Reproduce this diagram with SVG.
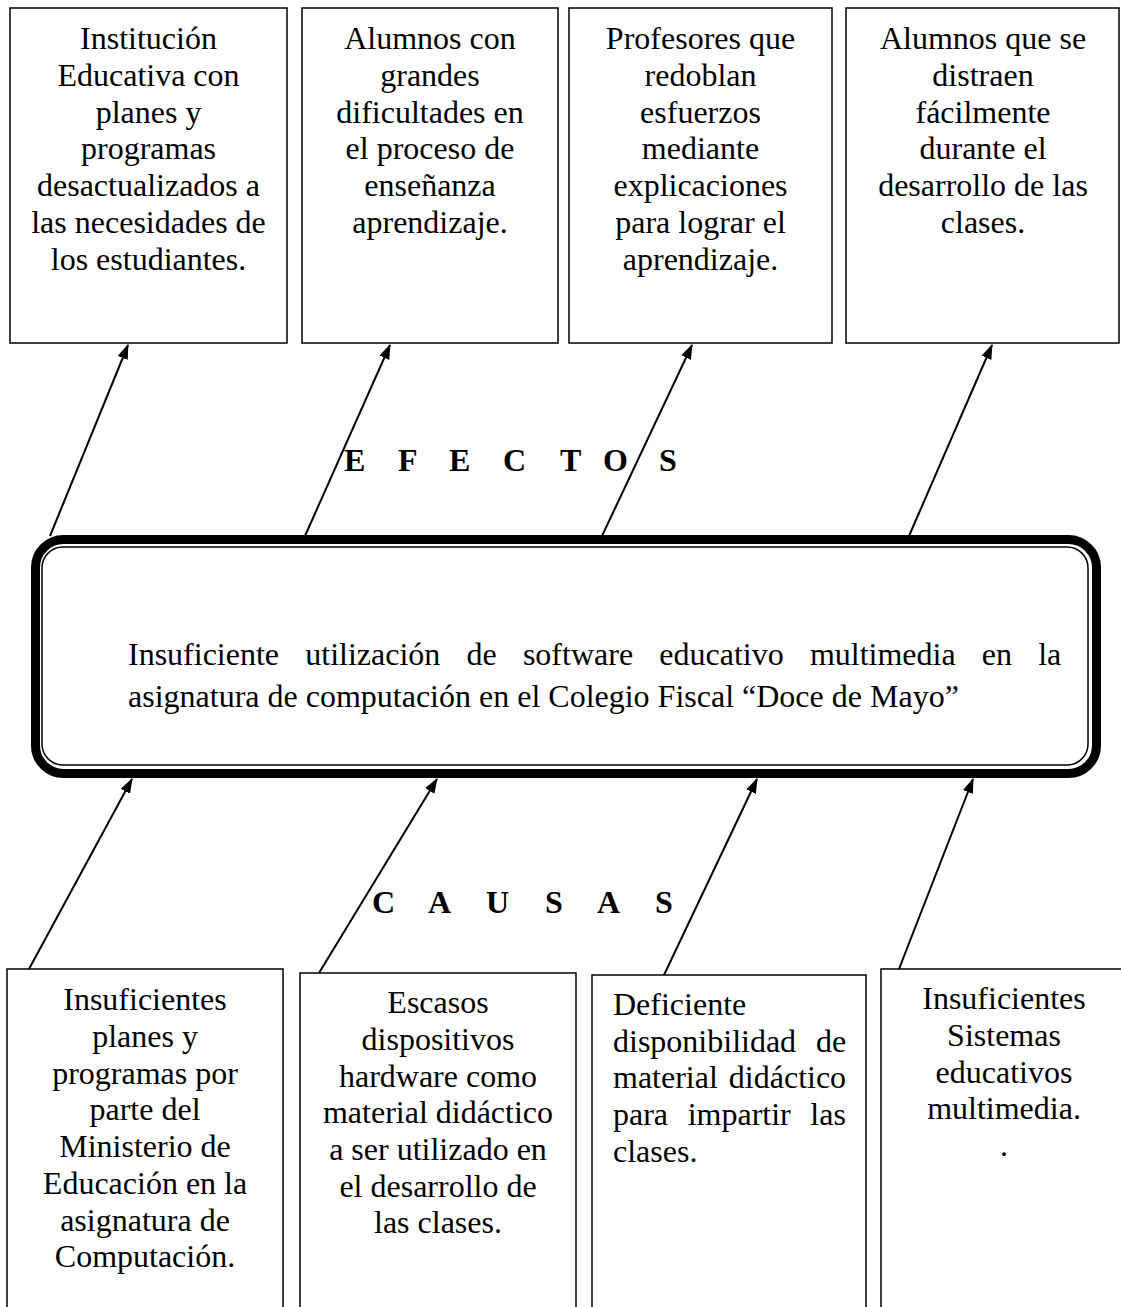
<svg xmlns="http://www.w3.org/2000/svg" width="1121" height="1307" viewBox="0 0 1121 1307">
<defs>
<style>
.box{fill:#fff;stroke:#000;stroke-width:1.5}
.t{font-family:"Liberation Serif","Times New Roman",serif;font-size:32px;fill:#000}
.c{text-anchor:middle}
.h{font-family:"Liberation Serif","Times New Roman",serif;font-size:32px;font-weight:bold;fill:#000}
.arr{stroke:#000;stroke-width:2;fill:none;marker-end:url(#ah)}
</style>
<marker id="ah" viewBox="0 0 14 10" refX="13" refY="5" markerWidth="15" markerHeight="11" markerUnits="userSpaceOnUse" orient="auto">
<path d="M0,0 L14,5 L0,10 z" fill="#000"/>
</marker>
</defs>
<rect width="1121" height="1307" fill="#fff"/>

<g id="efecto1">
<rect class="box" x="10" y="8" width="277" height="335"/>
<text class="t c"><tspan x="148.5" y="49">Institución</tspan><tspan x="148.5" y="86">Educativa con</tspan><tspan x="148.5" y="123">planes y</tspan><tspan x="148.5" y="159">programas</tspan><tspan x="148.5" y="196">desactualizados a</tspan><tspan x="148.5" y="233">las necesidades de</tspan><tspan x="148.5" y="270">los estudiantes.</tspan></text>
</g>
<g id="efecto2">
<rect class="box" x="302" y="8" width="256" height="335"/>
<text class="t c"><tspan x="430" y="49">Alumnos con</tspan><tspan x="430" y="86">grandes</tspan><tspan x="430" y="123">dificultades en</tspan><tspan x="430" y="159">el proceso de</tspan><tspan x="430" y="196">enseñanza</tspan><tspan x="430" y="233">aprendizaje.</tspan></text>
</g>
<g id="efecto3">
<rect class="box" x="569" y="8" width="263" height="335"/>
<text class="t c"><tspan x="700.5" y="49">Profesores que</tspan><tspan x="700.5" y="86">redoblan</tspan><tspan x="700.5" y="123">esfuerzos</tspan><tspan x="700.5" y="159">mediante</tspan><tspan x="700.5" y="196">explicaciones</tspan><tspan x="700.5" y="233">para lograr el</tspan><tspan x="700.5" y="270">aprendizaje.</tspan></text>
</g>
<g id="efecto4">
<rect class="box" x="846" y="8" width="273" height="335"/>
<text class="t c"><tspan x="983" y="49">Alumnos que se</tspan><tspan x="983" y="86">distraen</tspan><tspan x="983" y="123">fácilmente</tspan><tspan x="983" y="159">durante el</tspan><tspan x="983" y="196">desarrollo de las</tspan><tspan x="983" y="233">clases.</tspan></text>
</g>

<g id="label-efectos">
<text class="h" y="471"><tspan x="344">E</tspan> <tspan x="398">F</tspan> <tspan x="449">E</tspan> <tspan x="503">C</tspan> <tspan x="560">T</tspan> <tspan x="603">O</tspan> <tspan x="659">S</tspan></text>
</g>

<g id="problema">
<rect x="35.5" y="539.5" width="1061" height="234" rx="28" ry="28" fill="#fff" stroke="#000" stroke-width="9"/>
<rect x="42" y="547" width="1046" height="218" rx="21" ry="21" fill="none" stroke="#000" stroke-width="1.5"/>
<text class="t" x="128" y="665" word-spacing="18.2">Insuficiente utilización de software educativo multimedia en la</text>
<text class="t" x="128" y="707">asignatura de computación en el Colegio Fiscal “Doce de Mayo”</text>
</g>

<g id="label-causas">
<text class="h" y="913"><tspan x="372">C</tspan> <tspan x="428">A</tspan> <tspan x="486">U</tspan> <tspan x="545">S</tspan> <tspan x="597">A</tspan> <tspan x="655">S</tspan></text>
</g>

<g id="causa1">
<rect class="box" x="7" y="969" width="276" height="360"/>
<text class="t c"><tspan x="145" y="1010">Insuficientes</tspan><tspan x="145" y="1047">planes y</tspan><tspan x="145" y="1084">programas por</tspan><tspan x="145" y="1120">parte del</tspan><tspan x="145" y="1157">Ministerio de</tspan><tspan x="145" y="1194">Educación en la</tspan><tspan x="145" y="1231">asignatura de</tspan><tspan x="145" y="1267">Computación.</tspan></text>
</g>
<g id="causa2">
<rect class="box" x="300" y="973" width="276" height="360"/>
<text class="t c"><tspan x="438" y="1013">Escasos</tspan><tspan x="438" y="1050">dispositivos</tspan><tspan x="438" y="1087">hardware como</tspan><tspan x="438" y="1123">material didáctico</tspan><tspan x="438" y="1160">a ser utilizado en</tspan><tspan x="438" y="1197">el desarrollo de</tspan><tspan x="438" y="1233">las clases.</tspan></text>
</g>
<g id="causa3">
<rect class="box" x="592" y="975" width="274" height="360"/>
<text class="t" x="613" y="1015">Deficiente</text>
<text class="t" x="613" y="1052" word-spacing="12">disponibilidad de</text>
<text class="t" x="613" y="1088" word-spacing="3">material didáctico</text>
<text class="t" x="613" y="1125" word-spacing="11.6">para impartir las</text>
<text class="t" x="613" y="1162">clases.</text>
</g>
<g id="causa4">
<rect class="box" x="881" y="969" width="246" height="360"/>
<text class="t c"><tspan x="1004" y="1009">Insuficientes</tspan><tspan x="1004" y="1046">Sistemas</tspan><tspan x="1004" y="1083">educativos</tspan><tspan x="1004" y="1119">multimedia.</tspan><tspan x="1004" y="1156">.</tspan></text>
</g>

<g id="connectors">
<line class="arr" x1="50" y1="536" x2="128" y2="345"/>
<line class="arr" x1="305" y1="536" x2="390" y2="345"/>
<line class="arr" x1="602" y1="536" x2="692" y2="345"/>
<line class="arr" x1="909" y1="536" x2="992" y2="345"/>
<line class="arr" x1="29" y1="969" x2="132" y2="779"/>
<line class="arr" x1="319" y1="973" x2="437" y2="779"/>
<line class="arr" x1="664" y1="975" x2="757" y2="779"/>
<line class="arr" x1="899" y1="969" x2="973" y2="779"/>
</g>
</svg>
